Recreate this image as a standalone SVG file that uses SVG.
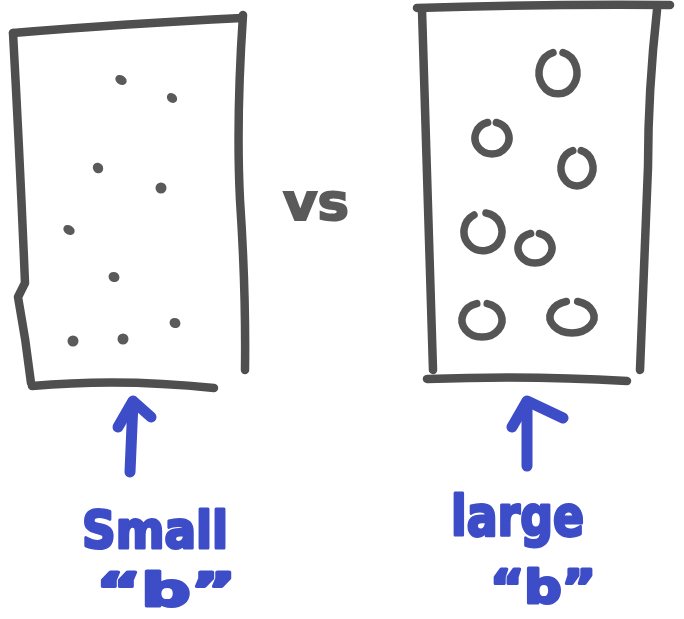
<svg xmlns="http://www.w3.org/2000/svg" width="684" height="619" viewBox="0 0 684 619">
<style>
.box{fill:none;stroke:#4f4f4f;stroke-width:8.5;stroke-linecap:round;stroke-linejoin:round}
.ring{fill:none;stroke:#555;stroke-width:7.5;stroke-linecap:round}
.dot{fill:#5a5a5a}
.arrow{fill:none;stroke:#3d4cc7;stroke-width:11;stroke-linecap:round;stroke-linejoin:round}
.blue{fill:#3d4cc7;stroke:#3d4cc7;stroke-width:3;stroke-linejoin:round;font-family:"DejaVu Sans","Liberation Sans",sans-serif;font-weight:bold}
.gray{fill:#5a5a5a;stroke:#5a5a5a;stroke-width:2;font-family:"DejaVu Sans","Liberation Sans",sans-serif;font-weight:bold}
</style>
<rect width="684" height="619" fill="#ffffff"/>
<g id="small-box">
<path class="box" d="M13,33 Q120,24 242,18"/>
<path class="box" d="M243,15 Q236,120 240,200 Q246,290 245,370"/>
<path class="box" d="M13,33 Q20,160 25,283 L18,297 Q26,340 31,383"/>
<path class="box" d="M32,386 Q120,378 214,388"/>
<ellipse class="dot" cx="121" cy="80" rx="6" ry="4.5" transform="rotate(30 121 80)"/>
<ellipse class="dot" cx="172" cy="98" rx="5.5" ry="4.5" transform="rotate(40 172 98)"/>
<ellipse class="dot" cx="98" cy="168" rx="5.5" ry="5" transform="rotate(50 98 168)"/>
<ellipse class="dot" cx="161" cy="188" rx="5.5" ry="5.5"/>
<ellipse class="dot" cx="69" cy="230" rx="6" ry="4.5" transform="rotate(30 69 230)"/>
<ellipse class="dot" cx="114" cy="277" rx="5.5" ry="5" transform="rotate(20 114 277)"/>
<ellipse class="dot" cx="175" cy="323" rx="5.5" ry="5" transform="rotate(20 175 323)"/>
<ellipse class="dot" cx="73" cy="341" rx="5.5" ry="5.5"/>
<ellipse class="dot" cx="123" cy="339" rx="5.5" ry="5.5"/>
</g>
<g id="vs">
<text class="gray" x="283" y="220" font-size="52" textLength="66" lengthAdjust="spacingAndGlyphs">vs</text>
</g>
<g id="large-box">
<path class="box" d="M417,8 Q540,4 670,5"/>
<path class="box" d="M422,10 Q428,190 433,370"/>
<path class="box" d="M657,10 Q648,90 648,167 Q644,270 640,370"/>
<path class="box" d="M427,379 Q530,375 627,381"/>
<path class="ring" d="M563,52.6 A19,21 0 1 1 553,52.6"/>
<path class="ring" d="M496.4,122.5 A17,16 0 1 1 487.6,122.5"/>
<path class="ring" d="M581.2,150.6 A16,18 0 1 1 572.8,150.6"/>
<path class="ring" d="M486,213 A19,19 0 1 1 474,215"/>
<path class="ring" d="M539.4,233.5 A17,15 0 1 1 530.6,233.5"/>
<path class="ring" d="M487.2,303.6 A20,17 0 1 1 476.8,303.6"/>
<path class="ring" d="M577.7,301.5 A22,16 0 1 1 566.3,301.5"/>
</g>
<g id="connectors">
<path class="arrow" d="M130,472 L133,402"/>
<path class="arrow" d="M118,427 L133,401 L151,417"/>
<path class="arrow" d="M527,466 L527,402"/>
<path class="arrow" d="M512,427 L527,401 L563,418"/>
</g>
<g id="label-small">
<text class="blue" x="82" y="548" font-size="52" textLength="146" lengthAdjust="spacingAndGlyphs">Small</text>
<text class="blue" x="96" y="606" font-size="46" textLength="140" lengthAdjust="spacingAndGlyphs">“b”</text>
</g>
<g id="label-large">
<text class="blue" x="451" y="535" font-size="56" textLength="133" lengthAdjust="spacingAndGlyphs">large</text>
<text class="blue" x="490" y="603" font-size="46" textLength="106" lengthAdjust="spacingAndGlyphs">“b”</text>
</g>
</svg>
